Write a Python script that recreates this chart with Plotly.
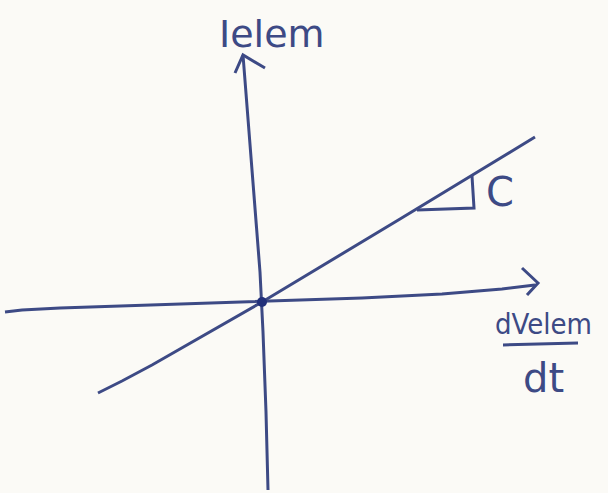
import plotly.graph_objects as go

# Sketch of the element current versus the rate of change of its voltage:
# I_elem = C * dV_elem/dt, a straight line through the origin with slope C.
# Coordinates are in sketch units with the origin at the axis crossing.

# vertical axis (I_elem), drawn by hand so it leans slightly
vaxis_x = [-19, -13, -7, -2, 1, 4, 6]
vaxis_y = [247, 170, 95, 30, -30, -110, -188]
varrow_x = [-27, -19, 3]
varrow_y = [229, 247, 234]

# horizontal axis (dV_elem/dt)
haxis_x = [-257, -240, -202, -112, 0, 100, 180, 240, 273]
haxis_y = [-10, -8, -6, -3, 1, 4, 8, 13, 17]
harrow_x = [260, 276, 265]
harrow_y = [34, 19, 7]

# characteristic line: slope C through the origin
line_x = [-164, -140, -110, -60, 0, 138, 273]
line_y = [-91, -79, -63, -34, 0, 83, 165]

# slope marker triangle
tri_x = [155, 212, 210]
tri_y = [92, 94, 126]

ink = "#3d4a85"
paper = "#fbfaf6"

fig = go.Figure()

def stroke(xs, ys, width=3):
    fig.add_trace(go.Scatter(
        x=xs, y=ys, mode="lines",
        line=dict(color=ink, width=width),
        hoverinfo="skip", showlegend=False))

stroke(vaxis_x, vaxis_y)
stroke(varrow_x, varrow_y)
stroke(haxis_x, haxis_y)
stroke(harrow_x, harrow_y)
stroke(line_x, line_y)
stroke(tri_x, tri_y)

# origin dot
fig.add_trace(go.Scatter(
    x=[0], y=[0], mode="markers",
    marker=dict(color="#22307a", size=10),
    hoverinfo="skip", showlegend=False))

# fraction bar between dVelem and dt
stroke([241, 278, 316], [-43, -42, -41])

annots = [
    dict(x=10, y=268, text="Ielem", size=38, family="DejaVu Sans"),
    dict(x=238, y=110, text="C", size=40, family="DejaVu Sans"),
    dict(x=281, y=-22, text="dVelem", size=29, family="DejaVu Sans Condensed"),
    dict(x=281, y=-76, text="dt", size=40, family="DejaVu Sans"),
]
for a in annots:
    fig.add_annotation(x=a["x"], y=a["y"], text=a["text"], showarrow=False,
                       font=dict(size=a["size"], family=a["family"], color=ink),
                       xanchor="center", yanchor="middle")

fig.update_layout(
    width=608, height=493,
    margin=dict(l=0, r=0, t=0, b=0),
    paper_bgcolor=paper, plot_bgcolor=paper,
    xaxis=dict(range=[-262, 346], visible=False, fixedrange=True),
    yaxis=dict(range=[-191, 302], visible=False, fixedrange=True),
)

fig.write_html("out.html")
